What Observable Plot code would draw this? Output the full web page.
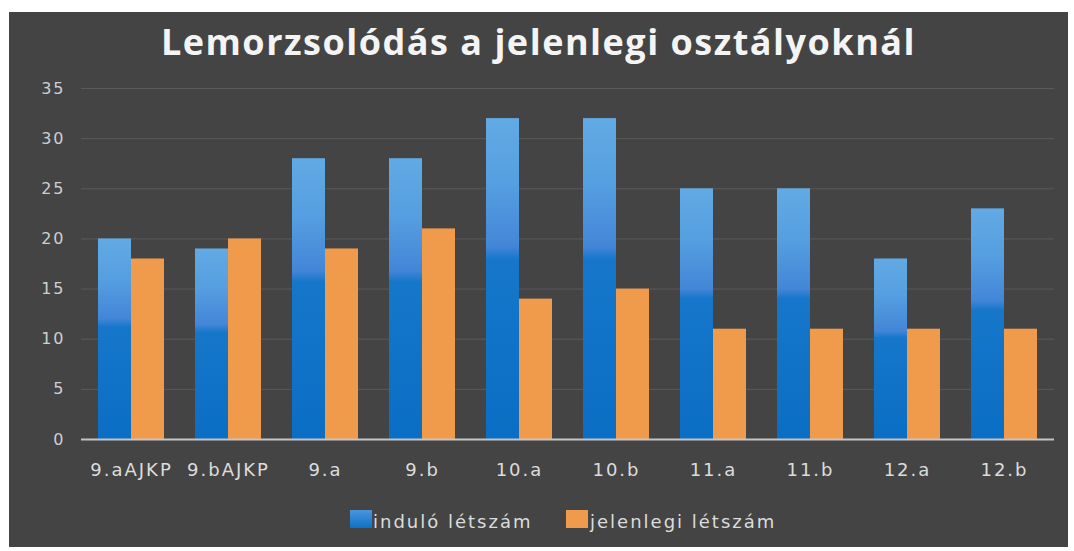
<!DOCTYPE html>
<html>
<head>
<meta charset="utf-8">
<script src="https://cdn.jsdelivr.net/npm/d3@7"></script>
<script src="https://cdn.jsdelivr.net/npm/@observablehq/plot@0.6"></script>
<style>
  html, body { margin: 0; padding: 0; background: #ffffff; width: 1074px; height: 551px; overflow: hidden; }
  #panel { position: absolute; left: 9px; top: 12px; width: 1059px; height: 535px; background: #444444; }
  #title { position: absolute; left: 0; top: 9px; width: 1059px; text-align: center;
           font-family: "Open Sans", sans-serif; font-weight: 700; font-size: 36px; line-height: 1.15;
           color: #f4f4f4; letter-spacing: 1.5px; }
  #chart { position: absolute; left: 0; top: 58px; }
  .sw { position: absolute; width: 22px; height: 18px; }
  .lt { position: absolute; font-family: "DejaVu Sans", sans-serif; font-size: 18px; line-height: 18px;
        color: #dcdcdc; letter-spacing: 2px; white-space: nowrap; }
  g[aria-label="x-axis tick label"] text { letter-spacing: 2px; }
  g[aria-label="y-axis tick label"] text { letter-spacing: 2px; }
</style>
</head>
<body>
<div id="panel">
  <div id="title">Lemorzsolódás a jelenlegi osztályoknál</div>
  <div id="chart"></div>
  <div class="sw" style="left:341px;top:498px;background:linear-gradient(#4a95dc,#0d72c6);"></div>
  <div class="lt" id="l1" style="left:364px;top:501px;"></div>
  <div class="sw" style="left:557px;top:498px;background:#f09a4c;"></div>
  <div class="lt" id="l2" style="left:581px;top:501px;"></div>
</div>
<script>
const categories = ["9.aAJKP", "9.bAJKP", "9.a", "9.b", "10.a", "10.b", "11.a", "11.b", "12.a", "12.b"];
const seriesNames = ["induló létszám", "jelenlegi létszám"];
const indulo = [20, 19, 28, 28, 32, 32, 25, 25, 18, 23];
const jelenlegi = [18, 20, 19, 21, 14, 15, 11, 11, 11, 11];
const yTicks = [0, 5, 10, 15, 20, 25, 30, 35];

const dataA = categories.map((c, i) => ({cat: c, value: indulo[i]}));
const dataB = categories.map((c, i) => ({cat: c, value: jelenlegi[i]}));

document.getElementById("l1").textContent = seriesNames[0];
document.getElementById("l2").textContent = seriesNames[1];

const chart = Plot.plot({
  width: 1059,
  height: 419,
  marginTop: 18,
  marginBottom: 50,
  marginLeft: 72,
  marginRight: 14,
  style: {background: "transparent", fontFamily: "DejaVu Sans, sans-serif", overflow: "visible"},
  x: {domain: categories, paddingInner: 0.32, paddingOuter: 0.16, label: null},
  y: {domain: [0, 35], label: null},
  marks: [
    Plot.gridY(yTicks.slice(1), {stroke: "#5a5a5a", strokeOpacity: 1, strokeWidth: 1}),
    Plot.barY(dataA, {x: "cat", y: "value", fill: "url(#gBlue)", insetRight: 33}),
    Plot.barY(dataB, {x: "cat", y: "value", fill: "#f09a4c", insetLeft: 33}),
    Plot.ruleY([0], {stroke: "#c4c4c4", strokeWidth: 2}),
    Plot.axisX({tickSize: 0, tickPadding: 24, fontSize: 18, fill: "#dcdcdc", label: null}),
    Plot.axisY({ticks: yTicks, tickSize: 0, tickPadding: 16, fontSize: 16, fill: "#cfcfcf", label: null})
  ]
});

const defs = d3.select(chart).insert("defs", ":first-child");
const g = defs.append("linearGradient").attr("id", "gBlue").attr("x1", 0).attr("y1", 0).attr("x2", 0).attr("y2", 1);
[[0, "#62aae4"], [0.2, "#569fe0"], [0.4, "#4386d8"], [0.44, "#1677ca"], [1, "#0a6ec4"]]
  .forEach(([o, c]) => g.append("stop").attr("offset", o).attr("stop-color", c));

document.getElementById("chart").appendChild(chart);
</script>
</body>
</html>
